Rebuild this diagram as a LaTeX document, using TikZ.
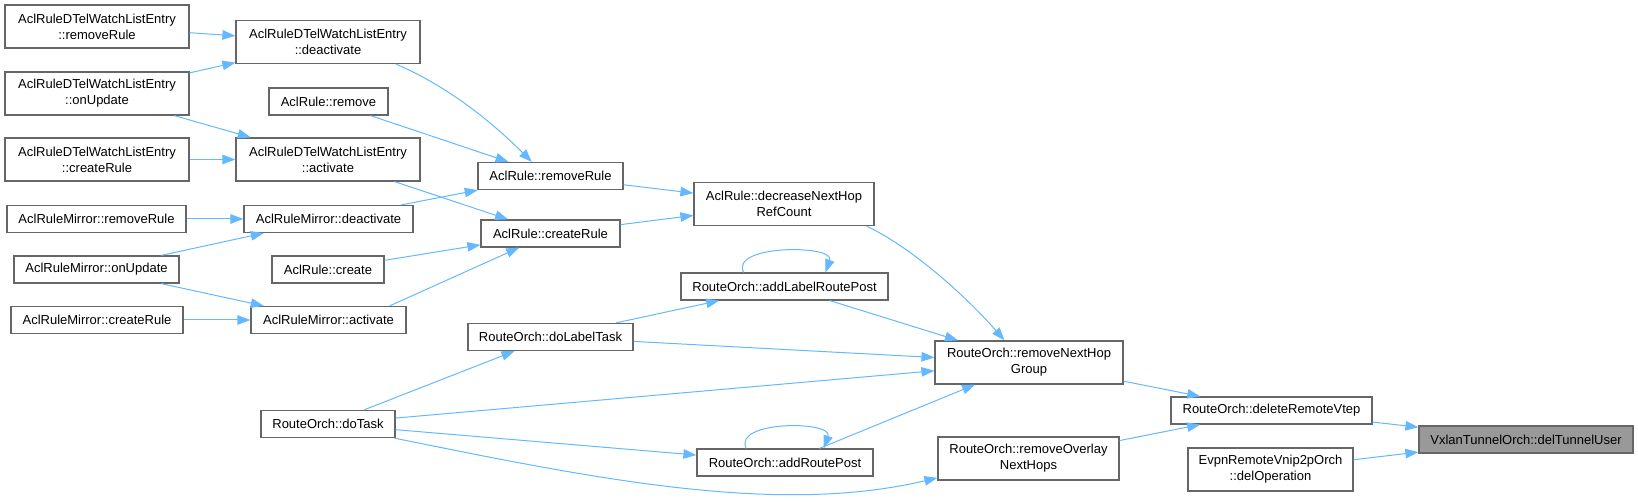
\documentclass[tikz,border=0pt]{standalone}
\usepackage{fontspec}
\setmainfont{Liberation Sans}
\usetikzlibrary{arrows.meta}
\definecolor{boxgray}{HTML}{666666}
\definecolor{rootgray}{HTML}{999999}
\definecolor{edgeblue}{HTML}{63B8FF}

\begin{document}
\begin{tikzpicture}
    [ x=1pt, y=-1pt
    , fn/.style={draw=boxgray, line width=1.2pt, fill=white, inner sep=0pt, align=center, font=\fontsize{13}{16}\selectfont}
    , one/.style={fn, minimum height=27}
    , two/.style={fn, minimum height=43}
    , root/.style={one, fill=rootgray}
    , calls/.style={draw=edgeblue, line width=1pt, -{Triangle[length=13pt,width=9.5pt]}}
    ]
  \useasboundingbox (0,0) rectangle (1638,502);

  \node[two, minimum width=184] (dtelRemove) at (97,26.5) {AclRuleDTelWatchListEntry\\::removeRule};
  \node[two, minimum width=184] (dtelUpdate) at (97,93.5) {AclRuleDTelWatchListEntry\\::onUpdate};
  \node[two, minimum width=184] (dtelCreate) at (97,159.5) {AclRuleDTelWatchListEntry\\::createRule};
  \node[one, minimum width=179] (mirRemove) at (96.5,219) {AclRuleMirror::removeRule};
  \node[one, minimum width=165] (mirUpdate) at (96.5,269.5) {AclRuleMirror::onUpdate};
  \node[one, minimum width=172] (mirCreate) at (97,320) {AclRuleMirror::createRule};

  \node[two, minimum width=184] (dtelDeact) at (328,42) {AclRuleDTelWatchListEntry\\::deactivate};
  \node[one, minimum width=119] (aclRemove) at (328.5,101.5) {AclRule::remove};
  \node[two, minimum width=184] (dtelAct) at (328,159.5) {AclRuleDTelWatchListEntry\\::activate};
  \node[one, minimum width=169] (mirDeact) at (328.5,219) {AclRuleMirror::deactivate};
  \node[one, minimum width=112] (aclCreate) at (328,269.5) {AclRule::create};
  \node[one, minimum width=155] (mirAct) at (328.5,320) {AclRuleMirror::activate};
  \node[one, minimum width=134] (doTask) at (328,424) {RouteOrch::doTask};

  \node[one, minimum width=145] (aclRemoveRule) at (550.5,176) {AclRule::removeRule};
  \node[one, minimum width=139] (aclCreateRule) at (550.5,233.5) {AclRule::createRule};
  \node[one, minimum width=165] (doLabelTask) at (550.5,337) {RouteOrch::doLabelTask};

  \node[two, minimum width=180] (decRef) at (784,204) {AclRule::decreaseNextHop\\RefCount};
  \node[one, minimum width=207] (addLabel) at (784.5,286.5) {RouteOrch::addLabelRoutePost};
  \node[one, minimum width=176] (addRoute) at (785,462.5) {RouteOrch::addRoutePost};

  \node[two, minimum width=188] (removeNhg) at (1029,362.5) {RouteOrch::removeNextHop\\Group};
  \node[two, minimum width=181] (removeOverlay) at (1028.5,458.5) {RouteOrch::removeOverlay\\NextHops};

  \node[one, minimum width=201] (deleteVtep) at (1271.5,410.5) {RouteOrch::deleteRemoteVtep};
  \node[two, minimum width=165] (delOp) at (1270.5,469.5) {EvpnRemoteVnip2pOrch\\::delOperation};

  \node[root, minimum width=214] (delTunnel) at (1526,439.5) {VxlanTunnelOrch::delTunnelUser};

  \draw[calls] (dtelRemove) -- (dtelDeact);
  \draw[calls] (dtelUpdate) -- (dtelDeact);
  \draw[calls] (dtelUpdate) -- (dtelAct);
  \draw[calls] (dtelCreate) -- (dtelAct);
  \draw[calls] (mirRemove) -- (mirDeact);
  \draw[calls] (mirUpdate) -- (mirDeact);
  \draw[calls] (mirUpdate) -- (mirAct);
  \draw[calls] (mirCreate) -- (mirAct);

  \draw[calls] (dtelDeact.-18) .. controls +(49,21) and +(-43,-43) .. (aclRemoveRule.143);
  \draw[calls] (aclRemove) -- (aclRemoveRule);
  \draw[calls] (mirDeact) -- (aclRemoveRule);
  \draw[calls] (dtelAct) -- (aclCreateRule);
  \draw[calls] (aclCreate) -- (aclCreateRule);
  \draw[calls] (mirAct.13) -- (aclCreateRule);

  \draw[calls] (aclRemoveRule) -- (decRef);
  \draw[calls] (aclCreateRule) -- (decRef);
  \draw[calls] (decRef.-15) .. controls +(43,20) and +(-40,-46) .. (removeNhg.138);

  \draw[calls] (doTask) -- (doLabelTask);
  \draw[calls] (doTask) -- (removeNhg);
  \draw[calls] (doTask) -- (addRoute);
  \draw[calls] (doTask.-12) .. controls +(211,43) and +(-158,37) .. (removeOverlay.192);
  \draw[calls] (doLabelTask) -- (addLabel);
  \draw[calls] (doLabelTask) -- (removeNhg);
  \draw[calls] (addLabel.161) .. controls +(-14,-28) and +(10,-28) .. (addLabel.19);
  \draw[calls] (addLabel) -- (removeNhg);
  \draw[calls] (addRoute.160) .. controls +(-14,-28) and +(10,-28) .. (addRoute.20);
  \draw[calls] (addRoute) -- (removeNhg);

  \draw[calls] (removeNhg) -- (deleteVtep);
  \draw[calls] (removeOverlay) -- (deleteVtep);
  \draw[calls] (deleteVtep) -- (delTunnel);
  \draw[calls] (delOp) -- (delTunnel);
\end{tikzpicture}
\end{document}
